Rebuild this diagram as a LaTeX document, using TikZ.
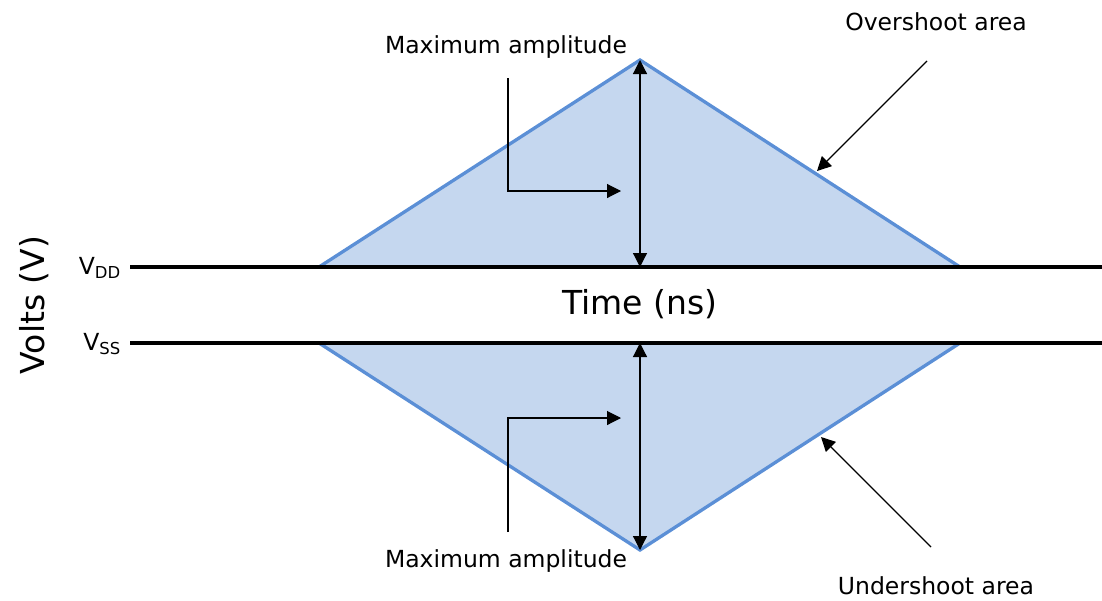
\documentclass[tikz,border=0pt]{standalone}
\usepackage{fontspec}
\setmainfont{DejaVu Sans}
\usetikzlibrary{arrows.meta}
\definecolor{areafill}{HTML}{C5D7EF}
\definecolor{areaedge}{HTML}{5B8FD6}
\begin{document}
\begin{tikzpicture}[x=1pt,y=-1pt,
  rail/.style={line width=3.8pt,black},
  edge/.style={draw=areaedge,line width=3.3pt,line join=miter},
  dim/.style={line width=1.2pt,{Triangle[length=14pt,width=14pt]}-{Triangle[length=14pt,width=14pt]}},
  callout/.style={line width=1.1pt,-{Triangle[length=14pt,width=14pt]}},
  lbl/.style={font=\fontsize{23.5}{27}\selectfont,inner sep=0pt},
  big/.style={font=\fontsize{33}{38}\selectfont,inner sep=0pt}]
\useasboundingbox (0,0) rectangle (1102,600);
% shapes
\coordinate (uL) at (319,267); \coordinate (uT) at (640,60); \coordinate (uR) at (960,267);
\coordinate (lL) at (319,343); \coordinate (lB) at (640,550); \coordinate (lR) at (960,343);
\fill[areafill] (uL) -- (uT) -- (uR) -- cycle;
\draw[edge] (uL) -- (uT) -- (uR);
\fill[areafill] (lL) -- (lB) -- (lR) -- cycle;
\draw[edge] (lL) -- (lB) -- (lR);
% rails
\coordinate (vddS) at (130,267); \coordinate (vddE) at (1102,267);
\coordinate (vssS) at (130,343); \coordinate (vssE) at (1102,343);
\draw[rail] (vddS) -- (vddE);
\draw[rail] (vssS) -- (vssE);
% dimension arrows
\coordinate (uBase) at (640,267); \coordinate (lBase) at (640,343);
\draw[dim] (uT) -- (uBase);
\draw[dim] (lBase) -- (lB);
% callouts
\coordinate (c1a) at (508,78); \coordinate (c1b) at (508,191); \coordinate (c1c) at (621,191);
\draw[callout] (c1a) -- (c1b) -- (c1c);
\coordinate (c2a) at (508,532); \coordinate (c2b) at (508,418); \coordinate (c2c) at (621,418);
\draw[callout] (c2a) -- (c2b) -- (c2c);
\coordinate (o1) at (927,61); \coordinate (o2) at (817,171);
\draw[callout] (o1) -- (o2);
\coordinate (u1) at (931,547); \coordinate (u2) at (821,437);
\draw[callout] (u1) -- (u2);
% labels
\node[lbl] (maxtop) at (506,47) {Maximum amplitude};
\node[lbl] (maxbot) at (506,561) {Maximum amplitude};
\node[lbl] (over) at (936,22) {Overshoot area};
\node[lbl] (under) at (936,586) {Undershoot area};
\node[lbl,anchor=east] (vdd) at (121,268) {V\textsubscript{DD}};
\node[lbl,anchor=east] (vss) at (121,344) {V\textsubscript{SS}};
\node[big] (time) at (640,304) {Time (ns)};
\node[big,rotate=90] (volts) at (34,305) {Volts (V)};
\end{tikzpicture}
\end{document}
